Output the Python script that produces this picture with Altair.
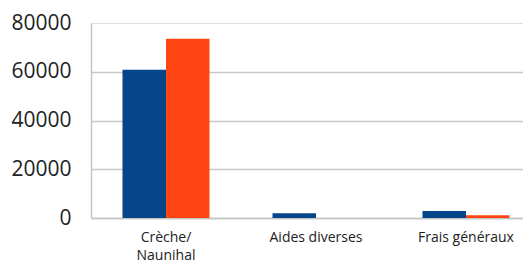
import altair as alt
import pandas as pd

categories = ["Crèche/Naunihal", "Aides diverses", "Frais généraux"]
series_names = ["Série 1", "Série 2"]
serie1 = [60800, 1900, 2900]
serie2 = [73500, 0, 1100]
colors = ["#05458A", "#FF4512"]
y_ticks = [0, 20000, 40000, 60000, 80000]

rows = []
for c, v1, v2 in zip(categories, serie1, serie2):
    rows.append({"cat": c, "series": series_names[0], "value": v1})
    rows.append({"cat": c, "series": series_names[1], "value": v2})
df = pd.DataFrame(rows)

chart = alt.Chart(df).mark_bar().encode(
    x=alt.X(
        "cat:N",
        sort=categories,
        title=None,
        scale=alt.Scale(range=[0, 450], paddingInner=0.42, paddingOuter=0.21),
        axis=alt.Axis(
            labelAngle=0,
            labelFont="Open Sans",
            labelFontSize=14,
            labelColor="#222222",
            labelPadding=12,
            labelLineHeight=18.5,
            ticks=False,
            domainColor="#c4c4c4",
            domainWidth=1.5,
            labelExpr="datum.label == 'Crèche/Naunihal' ? ['Crèche/', 'Naunihal'] : datum.label",
        ),
    ),
    xOffset=alt.XOffset("series:N", sort=series_names),
    y=alt.Y(
        "value:Q",
        title=None,
        scale=alt.Scale(domain=[0, 80000], nice=False),
        axis=alt.Axis(
            values=y_ticks,
            format="d",
            labelFont="Open Sans",
            labelFontSize=21,
            labelColor="#222222",
            labelPadding=20,
            ticks=False,
            domainColor="#c4c4c4",
            domainWidth=1.5,
            gridColor="#c8c8c8",
            gridWidth=1.5,
            gridOpacity={"condition": {"test": "datum.value >= 80000", "value": 0}, "value": 1},
        ),
    ),
    color=alt.Color(
        "series:N",
        sort=series_names,
        scale=alt.Scale(domain=series_names, range=colors),
        legend=None,
    ),
).properties(
    width=432,
    height=195,
    autosize=alt.AutoSizeParams(type="none"),
    padding={"left": 83, "top": 15, "right": 0, "bottom": 47},
).configure_view(stroke=None).configure(background="white")

chart.save("out.html", embed_options={"renderer": "svg", "actions": False})
